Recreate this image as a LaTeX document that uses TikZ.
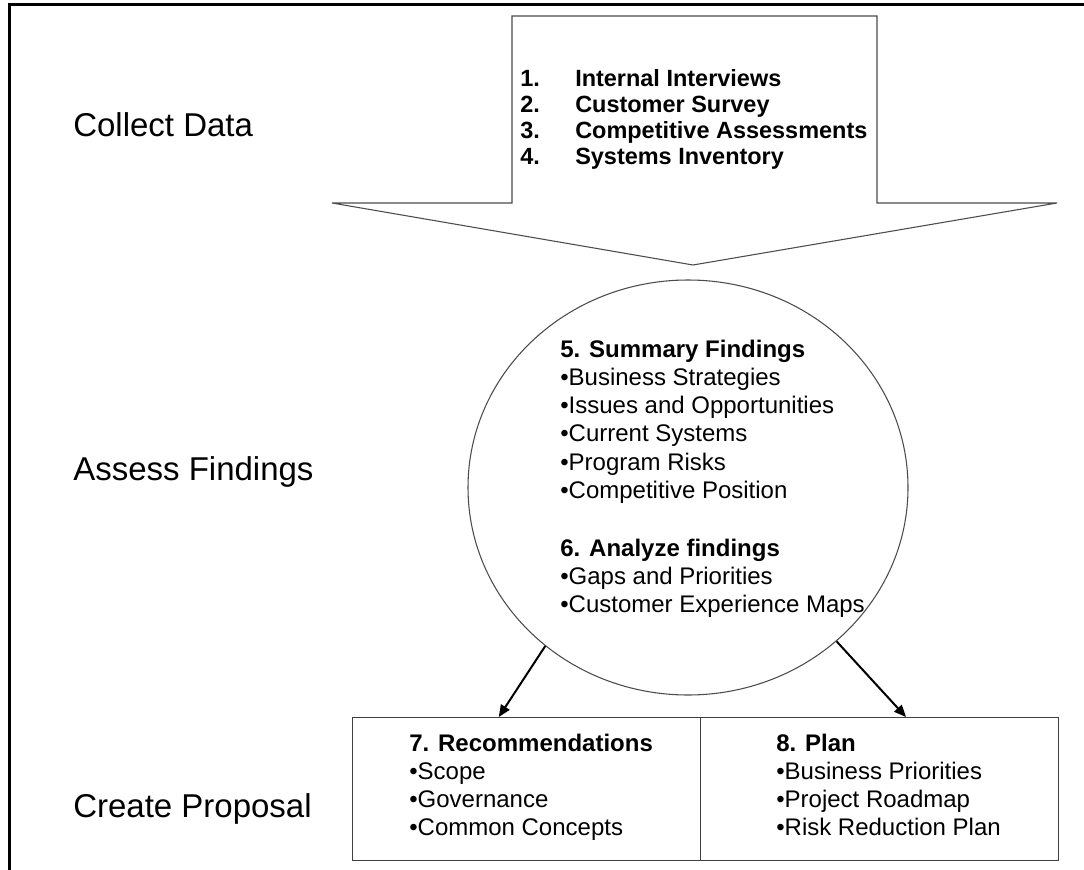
\documentclass[tikz,border=0pt]{standalone}
\usepackage{fontspec}
\setmainfont{Liberation Sans}
\usetikzlibrary{shapes.geometric,arrows.meta,calc}
\begin{document}
\begin{tikzpicture}[x=0.75pt,y=-0.75pt,
  lbl/.style={anchor=base west,inner sep=0,font=\fontsize{24.75}{29}\selectfont},
  body/.style={anchor=north west,inner sep=0,align=left,font=\fontsize{18}{21.2}\selectfont},
  items/.style={anchor=north west,inner sep=0,align=left,font=\bfseries\fontsize{17.6}{19.5}\selectfont},
  cell/.style={draw=black!75,line width=1.1pt,rectangle,anchor=north west,inner sep=0,minimum height=107.25pt},
  conn/.style={line width=1.5pt,-{Triangle[length=9pt,width=7.5pt]}},
  thin/.style={draw=black!70,line width=0.8pt}]
\useasboundingbox (0,0) rectangle (1084,870);
\fill[white] (0,0) rectangle (1084,870);
% frame
\draw[line width=2.25pt,line join=miter] (1084,5) -- (9,5) -- (9,870);
% stage labels
\node[lbl] (l1) at (73,137) {Collect Data};
\node[lbl] (l2) at (73,480) {Assess Findings};
\node[lbl] (l3) at (73,817) {Create Proposal};
% block arrow
\draw[thin,line join=miter] (512,16) -- (877,16) -- (877,203) -- (1057,203) -- (693,265)
  -- (332,203) -- (512,203) -- cycle;
\node[items] (collect) at (520,69.5) {%
\makebox[41.25pt][l]{1.}Internal Interviews\\
\makebox[41.25pt][l]{2.}Customer Survey\\
\makebox[41.25pt][l]{3.}Competitive Assessments\\
\makebox[41.25pt][l]{4.}Systems Inventory};
% circle
\node[ellipse,thin,minimum width=330pt,minimum height=311.25pt,inner sep=0] (c) at (688,487.5) {};
\node[body] (s5) at (560,339.4) {\textbf{5. Summary Findings}\\
•Business Strategies\\•Issues and Opportunities\\•Current Systems\\•Program Risks\\•Competitive Position};
\node[body] (s6) at (560,538.4) {\textbf{6. Analyze findings}\\
•Gaps and Priorities\\•Customer Experience Maps};
% boxes
\node[cell,minimum width=261pt] (b7) at (352,717) {};
\node[cell,minimum width=268.5pt] (b8) at (700,717) {};
\node[body] (r7) at (409,733.4) {\textbf{7. Recommendations}\\•Scope\\•Governance\\•Common Concepts};
\node[body] (r8) at (776,733.4) {\textbf{8. Plan}\\•Business Priorities\\•Project Roadmap\\•Risk Reduction Plan};
% connectors
\coordinate (t7) at ($(b7.north west)!0.42!(b7.north east)$);
\coordinate (t8) at ($(b8.north west)!0.573!(b8.north east)$);
\draw[conn] (c.-132) -- (t7);
\draw[conn] (c.-46) -- (t8);
\end{tikzpicture}
\end{document}
